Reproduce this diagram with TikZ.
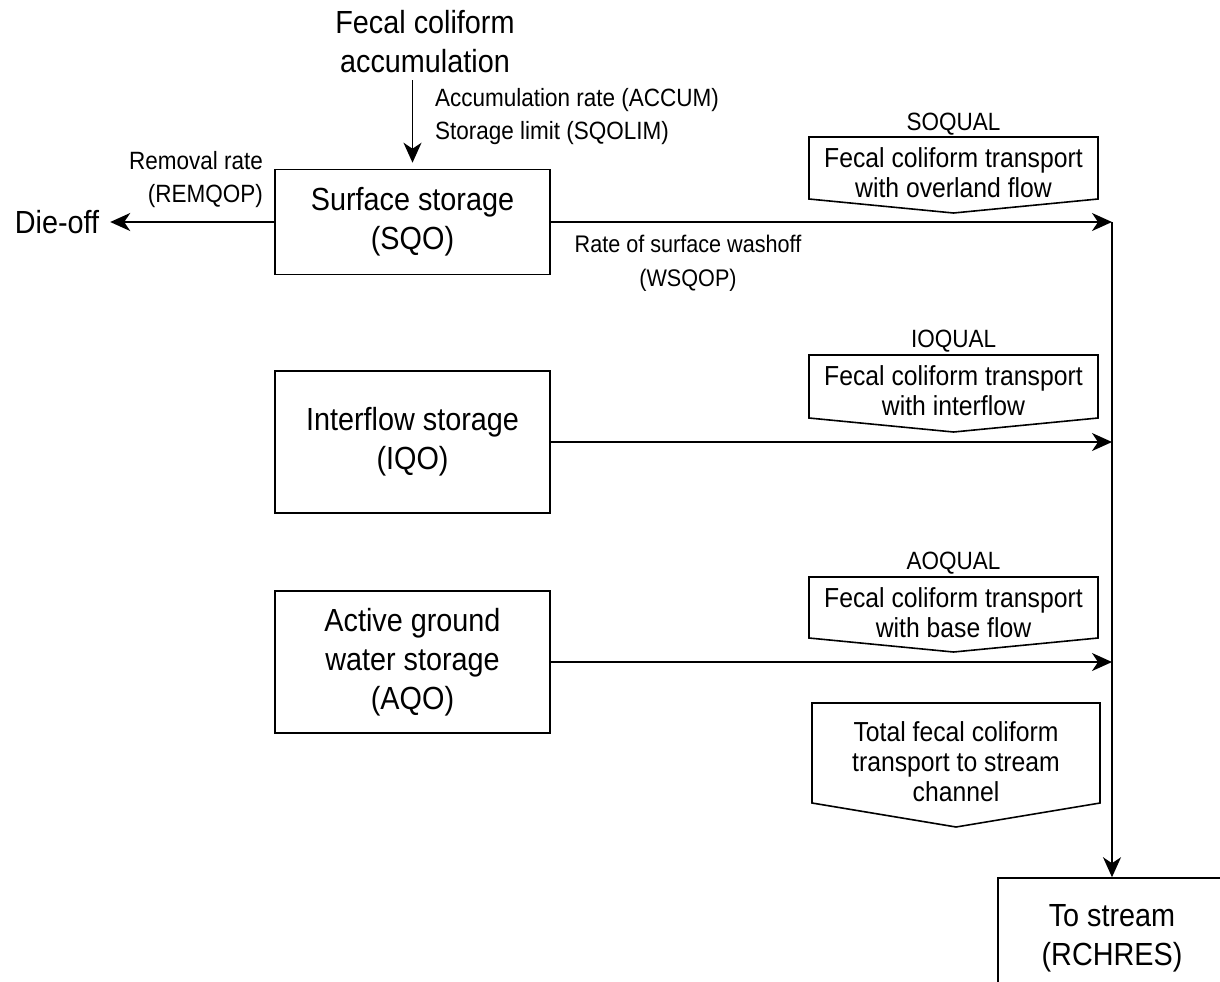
\documentclass[tikz,border=0pt]{standalone}
\usepackage{fontspec}
\setmainfont{Liberation Sans}[FakeStretch=0.9]
\usetikzlibrary{arrows.meta, positioning}

\begin{document}
\begin{tikzpicture}[x=0.5pt, y=-0.5pt,
		flow/.style={line width=0.8pt, -{Stealth[length=10pt, width=9pt, inset=3pt]}},
		store/.style={draw, line width=0.8pt, align=center, minimum width=137.5pt, font=\fontsize{16}{19.5}\selectfont},
		big/.style={align=center, font=\fontsize{16}{19.5}\selectfont},
		small/.style={align=center, font=\fontsize{12.5}{16.5}\selectfont},
		inpanel/.style={align=center, font=\fontsize{13.75}{15}\selectfont},
		panel/.style={draw, line width=0.8pt}]
				\useasboundingbox (0,0) rectangle (1220,981);
				\clip (0,0) rectangle (1220,981);
				% Storages
				\node[big] (accum) at (425,42) {Fecal coliform\\accumulation};
				\node[store, minimum height=52.5pt] (sqo) at (412.5,222) {Surface storage\\(SQO)};
				\node[store, minimum height=71pt] (iqo) at (412.5,442) {Interflow storage\\(IQO)};
				\node[store, minimum height=71pt] (aqo) at (412.5,662) {Active ground\\water storage\\(AQO)};
				\node[big] (dieoff) at (57,222) {Die-off};
				\node[store, minimum width=114pt, minimum height=60pt] (rchres) at (1112,938) {To stream\\(RCHRES)};
				% Rates
				\node[small, align=left, anchor=west] at (428,117) {Accumulation rate (ACCUM)\\Storage limit (SQOLIM)};
				\node[small, align=right, anchor=east] at (270,180) {Removal rate\\(REMQOP)};
				\node[small, font=\fontsize{12}{17}\selectfont] at (688,263) {Rate of surface washoff\\(WSQOP)};
				% Transport panels
				\filldraw[panel, fill=white] (809,137) -- (1098,137) -- (1098,199) -- (953.5,213) -- (809,199) -- cycle;
				\node[inpanel] at (953.5,173) {Fecal coliform transport\\with overland flow};
				\node[small] at (953.5,124) {SOQUAL};
				\filldraw[panel, fill=white] (809,355) -- (1098,355) -- (1098,418) -- (953.5,432) -- (809,418) -- cycle;
				\node[inpanel] at (953.5,391) {Fecal coliform transport\\with interflow};
				\node[small] at (953.5,341) {IOQUAL};
				\filldraw[panel, fill=white] (809,577) -- (1098,577) -- (1098,638) -- (953.5,652) -- (809,638) -- cycle;
				\node[inpanel] at (953.5,613) {Fecal coliform transport\\with base flow};
				\node[small] at (953.5,563) {AOQUAL};
				\filldraw[panel, fill=white] (812,703) -- (1100,703) -- (1100,803) -- (956,827) -- (812,803) -- cycle;
				\node[inpanel] at (956,762) {Total fecal coliform\\transport to stream\\channel};
				% Flows
				\draw[flow, shorten >=3pt] (accum.south -| sqo.north) -- (sqo.north);
				\draw[flow, shorten >=2pt] (sqo.west) -- (sqo.west -| dieoff.east);
				\draw[flow] (sqo.east) -- (sqo.east -| rchres.north);
				\draw[flow] (iqo.east) -- (iqo.east -| rchres.north);
				\draw[flow] (aqo.east) -- (aqo.east -| rchres.north);
				\draw[flow] (sqo.east -| rchres.north) -- (rchres.north);
			\end{tikzpicture}
\end{document}
